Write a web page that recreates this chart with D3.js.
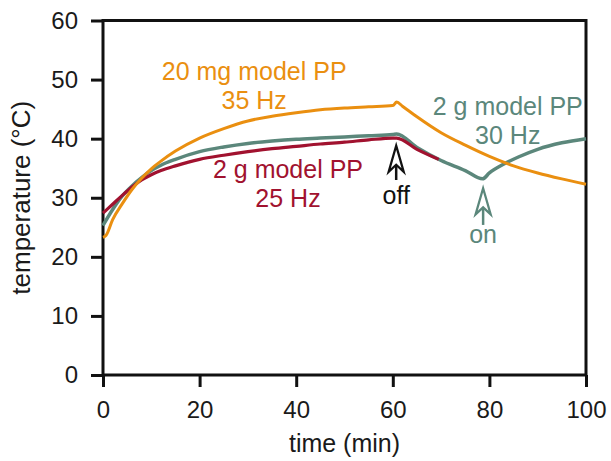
<!DOCTYPE html>
<html>
<head>
<meta charset="utf-8">
<script src="https://cdn.jsdelivr.net/npm/d3@7"></script>
<style>
  html, body { margin: 0; padding: 0; background: #fff; }
  svg { display: block; font-family: "Liberation Sans", Arial, sans-serif; }
</style>
</head>
<body>
<svg id="chart" width="611" height="461"></svg>
<script>
// ---- data ----
const xTicks = [0, 20, 40, 60, 80, 100];
const yTicks = [0, 10, 20, 30, 40, 50, 60];

// 20 mg model PP, 35 Hz (orange)
const orangeTime = [0, 0.6, 2, 4, 6, 8, 10, 12, 15, 20, 25, 30, 35, 40, 45, 50, 55, 60, 60.8, 62, 65, 70, 75, 80, 85, 90, 95, 100];
const orangeTemp = [23.3, 23.6, 26.3, 29.0, 31.4, 33.3, 34.9, 36.2, 37.9, 40.1, 41.7, 43.0, 43.8, 44.4, 44.9, 45.2, 45.4, 45.6, 46.2, 45.5, 43.7, 41.0, 38.9, 37.0, 35.4, 34.2, 33.2, 32.3];

// 2 g model PP, 30 Hz (teal)
const tealTime = [0, 2, 4, 6, 8, 10, 12, 15, 20, 25, 30, 35, 40, 45, 50, 55, 60, 60.8, 65, 70, 75, 78.6, 80, 83, 86, 90, 95, 100];
const tealTemp = [25.3, 28.0, 30.3, 32.0, 33.4, 34.6, 35.5, 36.5, 37.8, 38.6, 39.2, 39.6, 39.9, 40.1, 40.3, 40.5, 40.7, 40.8, 38.5, 36.3, 34.6, 33.2, 34.2, 35.7, 36.9, 38.2, 39.3, 40.0];

// 2 g model PP, 25 Hz (red)
const redTime = [0, 2, 4, 6, 8, 10, 12, 15, 20, 25, 30, 35, 40, 45, 50, 55, 60, 60.8, 65, 69.5];
const redTemp = [27.4, 28.9, 30.4, 31.8, 33.0, 33.9, 34.6, 35.4, 36.5, 37.2, 37.8, 38.3, 38.7, 39.1, 39.4, 39.8, 40.1, 40.1, 38.2, 36.5];

const labels = [
  { lines: ["20 mg model PP", "35 Hz"], x: 31.3, y: 49.9, color: "orange" },
  { lines: ["2 g model PP", "25 Hz"], x: 38.3, y: 33.3, color: "red" },
  { lines: ["2 g model PP", "30 Hz"], x: 83.8, y: 44.0, color: "teal" }
];
const arrows = [
  { text: "off", x: 60.7, tip: 38.8, end: 33.0, textY: 28.95, color: "black" },
  { text: "on", x: 78.7, tip: 31.6, end: 25.4, textY: 22.3, color: "teal" }
];

const colors = { orange: "#EA8F10", teal: "#5B877B", red: "#A1122F", black: "#111111" };

// ---- layout ----
const svg = d3.select("#chart");
const x = d3.scaleLinear().domain([0, 100]).range([103, 586]);
const y = d3.scaleLinear().domain([0, 60]).range([375, 20.5]);

const axisColor = "#111";
const tickFont = 24;
const textFont = 25;

// frame
svg.append("rect")
  .attr("x", x(0)).attr("y", y(60))
  .attr("width", x(100) - x(0)).attr("height", y(0) - y(60))
  .attr("fill", "none").attr("stroke", axisColor).attr("stroke-width", 3);

// y axis
const gy = svg.append("g").attr("transform", `translate(${x(0)},0)`)
  .call(d3.axisLeft(y).tickValues(yTicks).tickSize(12).tickSizeOuter(0).tickPadding(13));
gy.select(".domain").remove();
gy.selectAll(".tick line").attr("stroke", axisColor).attr("stroke-width", 3);
gy.selectAll(".tick text").attr("fill", "#1a1a1a").style("font-size", tickFont + "px")
  .attr("font-family", "Liberation Sans, Arial, sans-serif");

// x axis
const gx = svg.append("g").attr("transform", `translate(0,${y(0)})`)
  .call(d3.axisBottom(x).tickValues(xTicks).tickSize(12).tickSizeOuter(0).tickPadding(14));
gx.select(".domain").remove();
gx.selectAll(".tick line").attr("stroke", axisColor).attr("stroke-width", 3);
gx.selectAll(".tick text").attr("fill", "#1a1a1a").style("font-size", tickFont + "px")
  .attr("font-family", "Liberation Sans, Arial, sans-serif");

// axis titles
svg.append("text")
  .attr("x", (x(0) + x(100)) / 2).attr("y", 452)
  .attr("text-anchor", "middle").attr("fill", "#1a1a1a")
  .style("font-size", textFont + "px").text("time (min)");
svg.append("text")
  .attr("transform", `translate(30,${(y(0) + y(60)) / 2}) rotate(-90)`)
  .attr("text-anchor", "middle").attr("fill", "#1a1a1a")
  .style("font-size", "26px").text("temperature (°C)");

// lines
const line = d3.line().x(d => x(d[0])).y(d => y(d[1])).curve(d3.curveMonotoneX);
const series = [
  { t: tealTime, v: tealTemp, c: colors.teal, w: 3.5 },
  { t: redTime, v: redTemp, c: colors.red, w: 3.2 },
  { t: orangeTime, v: orangeTemp, c: colors.orange, w: 3 }
];
series.forEach(s => {
  svg.append("path")
    .datum(s.t.map((t, i) => [t, s.v[i]]))
    .attr("d", line)
    .attr("fill", "none").attr("stroke", s.c).attr("stroke-width", s.w)
    .attr("stroke-linejoin", "round").attr("stroke-linecap", "butt");
});

// annotation labels
labels.forEach(l => {
  const t = svg.append("text")
    .attr("text-anchor", "middle").attr("fill", colors[l.color])
    .style("font-size", textFont + "px");
  l.lines.forEach((ln, i) => {
    t.append("tspan").attr("x", x(l.x)).attr("y", y(l.y) + i * 29).text(ln);
  });
});

// arrows
arrows.forEach(a => {
  const c = colors[a.color];
  const px = x(a.x), ty = y(a.tip), ey = y(a.end);
  const g = svg.append("g");
  g.append("line").attr("x1", px).attr("x2", px).attr("y1", ty + 18).attr("y2", ey)
    .attr("stroke", c).attr("stroke-width", 2.5);
  g.append("path")
    .attr("d", `M${px},${ty} L${px - 7.5},${ty + 26} L${px},${ty + 19} L${px + 7.5},${ty + 26} Z`)
    .attr("fill", "#fff").attr("stroke", c).attr("stroke-width", 2.3).attr("stroke-linejoin", "miter");
  g.append("text").attr("x", px).attr("y", y(a.textY))
    .attr("text-anchor", "middle").attr("fill", c)
    .style("font-size", textFont + "px").text(a.text);
});
</script>
</body>
</html>
